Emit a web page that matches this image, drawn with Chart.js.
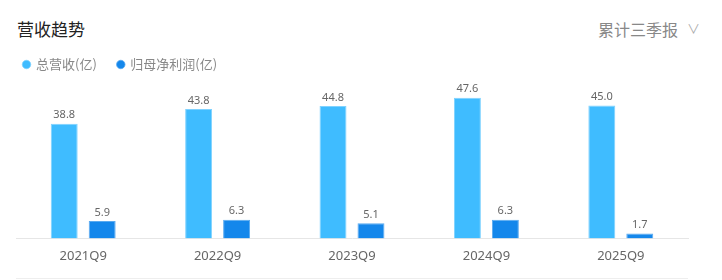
<!DOCTYPE html>
<html>
<head>
<meta charset="utf-8">
<title>营收趋势</title>
<script src="https://cdn.jsdelivr.net/npm/chart.js"></script>
<style>
    body { margin: 0; padding: 0; background: #fff; font-family: "Noto Sans CJK SC", "Noto Sans", sans-serif; }
    #wrap { position: relative; width: 722px; height: 280px; overflow: hidden; }
    .title { position: absolute; left: 17px; top: 16px; font-size: 17px; color: #222; }
    .period { position: absolute; right: 44px; top: 17px; font-size: 16px; color: #888; }
    .arrow { position: absolute; right: 22px; top: 18px; font-size: 13px; color: #aaa; }
    .bottom-line { position: absolute; left: 16px; width: 672px; top: 278px; height: 1px; background: #eeeeee; }
    #box { position: absolute; left: 0; top: 37px; width: 722px; height: 243px; }
</style>
</head>
<body>
<div id="wrap">
    <div class="title">营收趋势</div>
    <div class="period">累计三季报</div>
    <div class="arrow">&#8744;</div>
    <div id="box"><canvas id="myBar"></canvas></div>
    <div class="bottom-line"></div>
</div>

<script>
    // Data
    var periods = ['2021Q9', '2022Q9', '2023Q9', '2024Q9', '2025Q9'];
    var revenue = [38.8, 43.8, 44.8, 47.6, 45.0];
    var netProfit = [5.9, 6.3, 5.1, 6.3, 1.7];

    // draw numbers above bars
    var valueLabels = {
        id: 'valueLabels',
        afterDatasetsDraw: function(chart) {
            var ctx = chart.ctx;
            ctx.save();
            ctx.font = '11px "Noto Sans", "DejaVu Sans", sans-serif';
            ctx.fillStyle = '#666';
            ctx.textAlign = 'center';
            ctx.textBaseline = 'bottom';
            chart.data.datasets.forEach(function(ds, i) {
                chart.getDatasetMeta(i).data.forEach(function(bar, j) {
                    ctx.fillText(ds.data[j].toFixed(1), bar.x, bar.y - 3);
                });
            });
            ctx.restore();
        }
    };

    var config = {
        type: 'bar',
        data: {
            labels: periods,
            datasets: [
                {
                    label: '总营收(亿)',
                    data: revenue,
                    backgroundColor: '#3fbcff',
                    borderColor: '#7fd2ff',
                    borderWidth: {top: 1, left: 1, right: 1, bottom: 0},
                    categoryPercentage: 0.565,
                    barPercentage: 0.71
                },
                {
                    label: '归母净利润(亿)',
                    data: netProfit,
                    backgroundColor: '#1487eb',
                    borderColor: '#5aaaf0',
                    borderWidth: {top: 1, left: 1, right: 1, bottom: 0},
                    categoryPercentage: 0.565,
                    barPercentage: 0.71
                }
            ]
        },
        options: {
            responsive: true,
            maintainAspectRatio: false,
            animation: false,
            layout: { padding: { left: 2.5, right: 34, top: 0, bottom: 14 } },
            plugins: {
                tooltip: { enabled: false },
                legend: {
                    position: 'top',
                    align: 'start',
                    labels: {
                        usePointStyle: true,
                        pointStyle: 'circle',
                        boxWidth: 6,
                        boxHeight: 6,
                        padding: 21,
                        color: '#888',
                        font: { size: 13, family: '"Noto Sans CJK SC", sans-serif' }
                    }
                }
            },
            scales: {
                x: {
                    grid: { display: false },
                    border: { color: '#e6e6e6' },
                    ticks: {
                        color: '#666',
                        padding: 2,
                        font: { size: 13, family: '"Noto Sans", "DejaVu Sans", sans-serif' }
                    }
                },
                y: {
                    display: true,
                    min: 0,
                    max: 53.3,
                    grid: { display: false },
                    border: { display: false },
                    ticks: { display: false },
                    // keep the plot starting at x=16 while the legend sits further left
                    afterFit: function(scale) { scale.width = 13.5; }
                }
            }
        },
        plugins: [valueLabels]
    };

    new Chart(document.getElementById('myBar'), config);
</script>
</body>
</html>
